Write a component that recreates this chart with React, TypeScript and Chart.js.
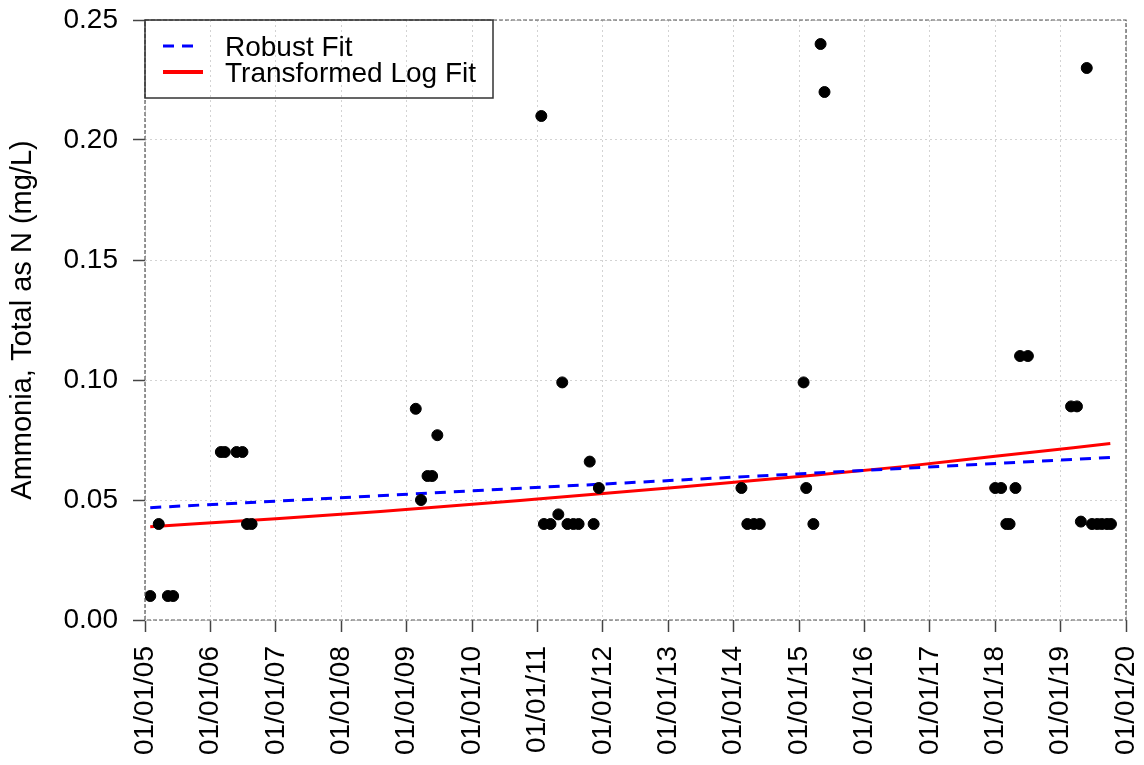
import React, { useEffect, useRef } from "react";
import { Chart, registerables } from "chart.js";

Chart.register(...registerables);

// ---- Data (decimal years) ----
const xTickYears = [2005, 2006, 2007, 2008, 2009, 2010, 2011, 2012, 2013, 2014, 2015, 2016, 2017, 2018, 2019, 2020];
const xTickLabels = ["01/01/05", "01/01/06", "01/01/07", "01/01/08", "01/01/09", "01/01/10", "01/01/11", "01/01/12", "01/01/13", "01/01/14", "01/01/15", "01/01/16", "01/01/17", "01/01/18", "01/01/19", "01/01/20"];
const yTickValues = [0, 0.05, 0.1, 0.15, 0.2, 0.25];
const yTickLabels = ["0.00", "0.05", "0.10", "0.15", "0.20", "0.25"];

const sampleDates = [
  2005.08, 2005.21, 2005.35, 2005.43, 2006.16, 2006.22, 2006.40, 2006.49, 2006.56, 2006.63,
  2009.14, 2009.22, 2009.32, 2009.39, 2009.47,
  2011.06, 2011.10, 2011.20, 2011.32, 2011.38, 2011.46, 2011.55, 2011.63, 2011.80, 2011.86, 2011.94,
  2014.12, 2014.21, 2014.31, 2014.40,
  2015.07, 2015.11, 2015.22, 2015.33, 2015.39,
  2018.00, 2018.09, 2018.17, 2018.22, 2018.31, 2018.38, 2018.50,
  2019.16, 2019.25, 2019.31, 2019.40, 2019.48, 2019.56, 2019.63, 2019.71, 2019.77,
];
const sampleValues = [
  0.01, 0.04, 0.01, 0.01, 0.07, 0.07, 0.07, 0.07, 0.04, 0.04,
  0.088, 0.05, 0.06, 0.06, 0.077,
  0.21, 0.04, 0.04, 0.044, 0.099, 0.04, 0.04, 0.04, 0.066, 0.04, 0.055,
  0.055, 0.04, 0.04, 0.04,
  0.099, 0.055, 0.04, 0.24, 0.22,
  0.055, 0.055, 0.04, 0.04, 0.055, 0.11, 0.11,
  0.089, 0.089, 0.041, 0.23, 0.04, 0.04, 0.04, 0.04, 0.04,
];

const robustDates = [2005.08, 2019.76];
const robustValues = [0.0468, 0.0677];

const logFitDates = [2005.08, 2007.0, 2008.6, 2011.0, 2013.19, 2015.0, 2016.55, 2018.0, 2019.76];
const logFitValues = [0.0389, 0.0422, 0.0452, 0.0504, 0.0554, 0.0598, 0.0638, 0.0682, 0.0735];

const FONT = "'Liberation Sans', Arial, Helvetica, sans-serif";

const framePlugin = {
  id: "frameAndLegend",
  afterDraw(chart: any) {
    const { ctx, chartArea } = chart;
    const { left, top, right, bottom } = chartArea;
    ctx.save();
    // plot box
    ctx.strokeStyle = "#555";
    ctx.lineWidth = 1.2;
    ctx.setLineDash([4, 2]);
    ctx.strokeRect(left, top, right - left, bottom - top);
    ctx.setLineDash([]);

    // legend
    const lw = 348;
    const lh = 78;
    ctx.strokeStyle = "#333";
    ctx.lineWidth = 1.5;
    ctx.strokeRect(left, top, lw, lh);
    const items = chart.data.datasets.filter((d: any) => d.type === "line");
    const rows = [top + 26, top + 52];
    const ends = [52, 58];
    items.forEach((d: any, i: number) => {
      const y = rows[i];
      ctx.beginPath();
      ctx.strokeStyle = d.borderColor;
      ctx.lineWidth = i === 0 ? 3 : 4;
      ctx.setLineDash(d.borderDash || []);
      ctx.moveTo(left + 18, y);
      ctx.lineTo(left + ends[i], y);
      ctx.stroke();
      ctx.setLineDash([]);
      ctx.fillStyle = "#000";
      ctx.font = `28px ${FONT}`;
      ctx.textBaseline = "alphabetic";
      ctx.textAlign = "left";
      ctx.fillText(d.label, left + 80, y + 9.5);
    });
    ctx.restore();
  },
};

export default function App() {
  const canvasRef = useRef<HTMLCanvasElement | null>(null);

  useEffect(() => {
    const canvas = canvasRef.current;
    if (!canvas) return;
    const chart = new Chart(canvas, {
      type: "scatter",
      data: {
        datasets: [
          {
            type: "scatter",
            label: "Samples",
            data: sampleDates.map((d, i) => ({ x: d, y: sampleValues[i] })),
            backgroundColor: "#000",
            borderColor: "#000",
            borderWidth: 1,
            pointRadius: 5.5,
          },
          {
            type: "line",
            label: "Robust Fit",
            data: robustDates.map((d, i) => ({ x: d, y: robustValues[i] })),
            borderColor: "#0000ff",
            borderWidth: 3,
            borderDash: [11, 8],
            pointRadius: 0,
            fill: false,
          },
          {
            type: "line",
            label: "Transformed Log Fit",
            data: logFitDates.map((d, i) => ({ x: d, y: logFitValues[i] })),
            borderColor: "#ff0000",
            borderWidth: 3,
            pointRadius: 0,
            cubicInterpolationMode: "monotone",
            fill: false,
          },
        ],
      } as any,
      options: {
        responsive: false,
        animation: false,
        layout: { padding: { left: 0, top: 20, right: 18, bottom: 0 } },
        plugins: {
          legend: { display: false },
          tooltip: { enabled: false },
        },
        scales: {
          x: {
            type: "linear",
            min: 2005,
            max: 2020,
            afterBuildTicks: (scale: any) => {
              scale.ticks = xTickYears.map((v) => ({ value: v }));
            },
            afterFit: (scale: any) => {
              scale.height = 145;
              scale.paddingLeft = 0;
              scale.paddingRight = 0;
            },
            ticks: {
              autoSkip: false,
              minRotation: 90,
              maxRotation: 90,
              padding: 14,
              color: "#000",
              font: { family: FONT, size: 28 },
              callback: (v: any) => xTickLabels[xTickYears.indexOf(Number(v))] ?? "",
            },
            grid: {
              color: "#d3d3d3",
              lineWidth: 1,
              tickLength: 12,
              tickColor: "#444",
              tickWidth: 1.5,
              tickBorderDash: [],
            },
            border: { display: false, dash: [2, 3] },
          },
          y: {
            type: "linear",
            min: 0,
            max: 0.25,
            afterBuildTicks: (scale: any) => {
              scale.ticks = yTickValues.map((v) => ({ value: v }));
            },
            afterFit: (scale: any) => {
              scale.width = 145;
              scale.paddingTop = 0;
              scale.paddingBottom = 0;
            },
            ticks: {
              padding: 15,
              color: "#000",
              font: { family: FONT, size: 28 },
              callback: (v: any) => {
                const idx = yTickValues.findIndex((t) => Math.abs(t - Number(v)) < 1e-9);
                return idx >= 0 ? yTickLabels[idx] : "";
              },
            },
            grid: {
              color: "#d3d3d3",
              lineWidth: 1,
              tickLength: 12,
              tickColor: "#444",
              tickWidth: 1.5,
              tickBorderDash: [],
            },
            border: { display: false, dash: [2, 3] },
            title: {
              display: true,
              text: "Ammonia, Total as N (mg/L)",
              color: "#000",
              font: { family: FONT, size: 29 },
              padding: { top: 6, bottom: 0 },
            },
          },
        },
      },
      plugins: [framePlugin],
    });
    return () => chart.destroy();
  }, []);

  return (
    <div style={{ position: "fixed", left: 0, top: 0, width: 1144, height: 765, background: "#fff" }}>
      <canvas ref={canvasRef} width={1144} height={765} style={{ display: "block" }} />
    </div>
  );
}
